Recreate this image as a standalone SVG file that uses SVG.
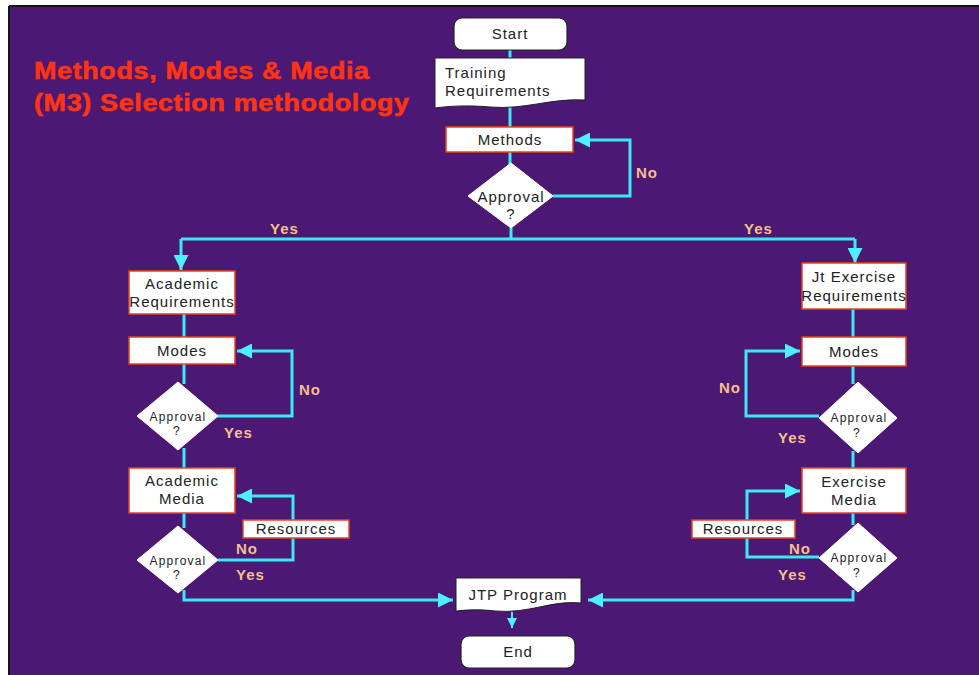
<svg xmlns="http://www.w3.org/2000/svg" width="979" height="675" viewBox="0 0 979 675">
  <style>
    .bg { fill: #4b1873; }
    .box { fill: #ffffff; stroke: #e8401c; stroke-width: 1.5; }
    .term { fill: #ffffff; stroke: #222222; stroke-width: 1.2; }
    .doc { fill: #ffffff; stroke: #222222; stroke-width: 1; }
    .dia { fill: #ffffff; stroke: #ffffff; stroke-width: 1; }
    .t { font-family: "Liberation Sans", Arial, sans-serif; font-size: 15px; fill: #222222; text-anchor: middle; letter-spacing: 1px; }
    .tl { font-family: "Liberation Sans", Arial, sans-serif; font-size: 15px; fill: #222222; letter-spacing: 1px; }
    .ds { font-family: "Liberation Sans", Arial, sans-serif; font-size: 12px; fill: #222222; text-anchor: middle; letter-spacing: 1.2px; }
    .lab { font-family: "Liberation Sans", Arial, sans-serif; font-size: 15px; font-weight: bold; fill: #f4c08c; letter-spacing: 1px; }
    .title { font-family: "Liberation Sans", Arial, sans-serif; font-size: 24px; font-weight: bold; fill: #ff3410; stroke: #ff3410; stroke-width: 0.6; letter-spacing: 0.6px; }
    .ln { fill: none; stroke: #3ce8f4; stroke-width: 3; }
  </style>
  <defs>
    <marker id="arr" viewBox="0 0 10 10" refX="10" refY="5" markerWidth="5" markerHeight="5" orient="auto" markerUnits="strokeWidth">
      <path d="M0,0 L10,5 L0,10 Z" fill="#4ef0ff"/>
    </marker>
  </defs>

  <!-- page background -->
  <rect x="0" y="0" width="979" height="675" fill="#ffffff"/>
  <rect x="8" y="6" width="975" height="675" class="bg"/>
  <path d="M9,6 H979 M9,6 V675" stroke="#151515" stroke-width="2" fill="none"/>

  <!-- title, widened heavy face -->
  <g transform="translate(34,0) scale(1.12,1)">
    <text class="title" x="0" y="79">Methods, Modes &amp; Media</text>
    <text class="title" x="0" y="111">(M3) Selection methodology</text>
  </g>

  <!-- connectors -->
  <g id="connectors">
    <path class="ln" d="M510,50 V60"/>
    <path class="ln" d="M510,104 V127"/>
    <path class="ln" d="M510,152 V165"/>
    <path class="ln" d="M553,196 H630 V140 H575" marker-end="url(#arr)"/>
    <path class="ln" d="M511,228 V239"/>
    <path class="ln" d="M181,239 H855"/>
    <path class="ln" d="M181,239 V270" marker-end="url(#arr)"/>
    <path class="ln" d="M855,239 V263" marker-end="url(#arr)"/>

    <!-- left branch -->
    <path class="ln" d="M184,314 V384"/>
    <path class="ln" d="M217,416 H292 V351 H237" marker-end="url(#arr)"/>
    <path class="ln" d="M184,448 V468"/>
    <path class="ln" d="M184,513 V528"/>
    <path class="ln" d="M218,560 H293 V496 H237" marker-end="url(#arr)"/>
    <path class="ln" d="M184,590 V600 H453" marker-end="url(#arr)"/>

    <!-- right branch -->
    <path class="ln" d="M853,309 V384"/>
    <path class="ln" d="M819,416 H746 V351 H800" marker-end="url(#arr)"/>
    <path class="ln" d="M853,451 V468"/>
    <path class="ln" d="M853,513 V525"/>
    <path class="ln" d="M819,557 H747 V491 H800" marker-end="url(#arr)"/>
    <path class="ln" d="M853,590 V600 H588" marker-end="url(#arr)"/>

    <!-- to end -->
    <path d="M512,612 V628" stroke="#3ce8f4" stroke-width="2" fill="none" marker-end="url(#arr)"/>
  </g>

  <!-- edge labels -->
  <g id="labels">
    <text class="lab" x="636" y="178">No</text>
    <text class="lab" x="270" y="234">Yes</text>
    <text class="lab" x="744" y="234">Yes</text>
    <text class="lab" x="299" y="395">No</text>
    <text class="lab" x="224" y="438">Yes</text>
    <text class="lab" x="236" y="554">No</text>
    <text class="lab" x="236" y="580">Yes</text>
    <text class="lab" x="719" y="393">No</text>
    <text class="lab" x="778" y="443">Yes</text>
    <text class="lab" x="789" y="554">No</text>
    <text class="lab" x="778" y="580">Yes</text>
  </g>

  <g id="start">
    <rect class="term" x="454" y="18" width="113" height="32" rx="8"/>
    <text class="t" x="510" y="39">Start</text>
  </g>

  <g id="training">
    <path class="doc" d="M435,58 H585 V100 C550,98 525,110 490,107 C468,105 450,106 435,108 Z"/>
    <text class="tl" x="445" y="78">Training</text>
    <text class="tl" x="445" y="96">Requirements</text>
  </g>

  <g id="methods">
    <rect class="box" x="446" y="127" width="127" height="25"/>
    <text class="t" x="510" y="145">Methods</text>
  </g>

  <g id="approval-methods">
    <polygon class="dia" points="511,163 553,196 511,228 468,196"/>
    <text class="t" x="511" y="202">Approval</text>
    <text class="t" x="511" y="219">?</text>
  </g>

  <g id="academic-req">
    <rect class="box" x="129" y="271" width="106" height="43"/>
    <text class="t" x="182" y="289">Academic</text>
    <text class="t" x="182" y="307">Requirements</text>
  </g>

  <g id="academic-modes">
    <rect class="box" x="129" y="337" width="106" height="27"/>
    <text class="t" x="182" y="356">Modes</text>
  </g>

  <g id="approval-academic-modes">
    <polygon class="dia" points="178,382 218,416 178,450 137,416"/>
    <text class="ds" x="178" y="421">Approval</text>
    <text class="ds" x="177" y="435">?</text>
  </g>

  <g id="academic-media">
    <rect class="box" x="129" y="468" width="106" height="45"/>
    <text class="t" x="182" y="486">Academic</text>
    <text class="t" x="182" y="504">Media</text>
  </g>

  <g id="approval-academic-media">
    <polygon class="dia" points="178,526 218,560 178,593 137,560"/>
    <text class="ds" x="178" y="565">Approval</text>
    <text class="ds" x="177" y="579">?</text>
  </g>

  <g id="resources-left">
    <rect class="box" x="243" y="520" width="106" height="18"/>
    <text class="t" x="296" y="534">Resources</text>
  </g>

  <g id="exercise-req">
    <rect class="box" x="802" y="263" width="104" height="46"/>
    <text class="t" x="854" y="282">Jt Exercise</text>
    <text class="t" x="854" y="301">Requirements</text>
  </g>

  <g id="exercise-modes">
    <rect class="box" x="802" y="337" width="104" height="29"/>
    <text class="t" x="854" y="357">Modes</text>
  </g>

  <g id="approval-exercise-modes">
    <polygon class="dia" points="858,382 897,418 858,453 819,418"/>
    <text class="ds" x="859" y="422">Approval</text>
    <text class="ds" x="857" y="437">?</text>
  </g>

  <g id="exercise-media">
    <rect class="box" x="802" y="468" width="104" height="45"/>
    <text class="t" x="854" y="487">Exercise</text>
    <text class="t" x="854" y="505">Media</text>
  </g>

  <g id="approval-exercise-media">
    <polygon class="dia" points="858,523 897,558 858,592 819,558"/>
    <text class="ds" x="859" y="562">Approval</text>
    <text class="ds" x="857" y="577">?</text>
  </g>

  <g id="resources-right">
    <rect class="box" x="692" y="520" width="103" height="18"/>
    <text class="t" x="743" y="534">Resources</text>
  </g>

  <g id="jtp-program">
    <path class="doc" d="M456,578 H581 V603 C550,600 530,614 495,611 C478,609 466,610 456,611 Z"/>
    <text class="t" x="518" y="600">JTP Program</text>
  </g>

  <g id="end">
    <rect class="term" x="461" y="636" width="114" height="32" rx="8"/>
    <text class="t" x="518" y="657">End</text>
  </g>
</svg>
